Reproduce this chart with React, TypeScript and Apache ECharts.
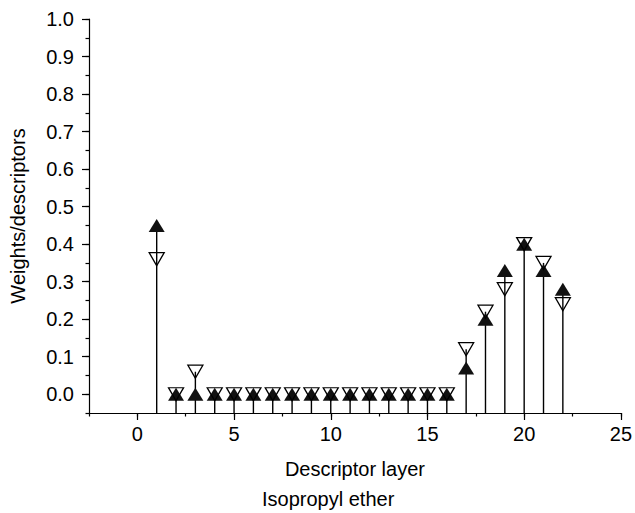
import React, { useEffect, useRef } from "react";
import * as echarts from "echarts";

// Descriptor layers and the two weight profiles drawn as stems
const layers = [1, 2, 3, 4, 5, 6, 7, 8, 9, 10, 11, 12, 13, 14, 15, 16, 17, 18, 19, 20, 21, 22];
const filledValues = [0.45, 0, 0, 0, 0, 0, 0, 0, 0, 0, 0, 0, 0, 0, 0, 0, 0.07, 0.2, 0.33, 0.4, 0.33, 0.28];
const hollowValues = [0.36, 0, 0.06, 0, 0, 0, 0, 0, 0, 0, 0, 0, 0, 0, 0, 0, 0.12, 0.22, 0.28, 0.4, 0.35, 0.24];

// Labelled (long) ticks; the short ticks fall every half step in between
const yMajorTicks = [0, 0.1, 0.2, 0.3, 0.4, 0.5, 0.6, 0.7, 0.8, 0.9, 1.0];
const xMajorTicks = [0, 5, 10, 15, 20, 25];

const Y_MIN = -0.05;
const Y_MAX = 1.0;
const Y_STEP = 0.05;
const X_MIN = -2.5;
const X_MAX = 25;
const X_STEP = 2.5;

const FONT = "'Liberation Sans', Arial, Helvetica, sans-serif";
const INK = "#000000";

const isMultiple = (v: number, step: number) => Math.abs(v / step - Math.round(v / step)) < 1e-6;

export default function App() {
  const ref = useRef<HTMLDivElement>(null);

  useEffect(() => {
    if (!ref.current) return;
    const chart = echarts.init(ref.current, null, { renderer: "svg" });

    const stems = layers.map((x, i) => [x, Math.max(filledValues[i], hollowValues[i])]);

    const axisLineStyle = { color: INK, width: 1.2 };

    chart.setOption({
      animation: false,
      backgroundColor: "#ffffff",
      grid: { left: 88, right: 14, top: 19, bottom: 100 },
      xAxis: [
        {
          type: "value",
          min: X_MIN,
          max: X_MAX,
          interval: X_STEP,
          name: "Descriptor layer",
          nameLocation: "middle",
          nameGap: 46,
          nameTextStyle: { fontFamily: FONT, fontSize: 20, color: INK },
          axisLine: { show: true, onZero: false, lineStyle: axisLineStyle },
          axisTick: { show: true, length: 3.5, lineStyle: axisLineStyle },
          axisLabel: {
            show: true,
            margin: 11,
            fontFamily: FONT,
            fontSize: 20,
            color: INK,
            showMinLabel: true,
            showMaxLabel: true,
            formatter: (v: number) => (isMultiple(v, 5) ? String(Math.round(v)) : ""),
          },
          splitLine: { show: false },
        },
        {
          type: "value",
          position: "bottom",
          min: X_MIN,
          max: X_MAX,
          axisLine: { show: false, onZero: false },
          axisTick: { show: true, length: 7, lineStyle: axisLineStyle, customValues: xMajorTicks },
          axisLabel: { show: false },
          splitLine: { show: false },
        },
      ],
      yAxis: [
        {
          type: "value",
          min: Y_MIN,
          max: Y_MAX,
          interval: Y_STEP,
          name: "Weights/descriptors",
          nameLocation: "middle",
          nameGap: 61,
          nameTextStyle: { fontFamily: FONT, fontSize: 20, color: INK },
          axisLine: { show: true, onZero: false, lineStyle: axisLineStyle },
          axisTick: { show: true, length: 3.5, lineStyle: axisLineStyle },
          axisLabel: {
            show: true,
            margin: 15,
            fontFamily: FONT,
            fontSize: 20,
            color: INK,
            showMinLabel: true,
            showMaxLabel: true,
            formatter: (v: number) => (isMultiple(v, 0.1) ? v.toFixed(1) : ""),
          },
          splitLine: { show: false },
        },
        {
          type: "value",
          position: "left",
          min: Y_MIN,
          max: Y_MAX,
          axisLine: { show: false, onZero: false },
          axisTick: { show: true, length: 7, lineStyle: axisLineStyle, customValues: yMajorTicks },
          axisLabel: { show: false },
          splitLine: { show: false },
        },
      ],
      graphic: [
        {
          type: "text",
          left: 262,
          top: 489,
          style: { text: "Isopropyl ether", fontFamily: FONT, fontSize: 20, fill: INK },
        },
      ],
      series: [
        {
          type: "custom",
          name: "stems",
          coordinateSystem: "cartesian2d",
          data: stems,
          z: 1,
          renderItem: (_params: any, api: any) => {
            const x = api.value(0);
            const top = api.coord([x, api.value(1)]);
            const base = api.coord([x, Y_MIN]);
            return {
              type: "line",
              shape: { x1: base[0], y1: base[1], x2: top[0], y2: top[1] },
              style: { stroke: INK, lineWidth: 1.4 },
            };
          },
        },
        {
          type: "scatter",
          name: "filled",
          data: layers.map((x, i) => [x, filledValues[i]]),
          symbol: "triangle",
          symbolSize: [16, 13],
          itemStyle: { color: "#111", opacity: 1 },
          z: 2,
        },
        {
          type: "scatter",
          name: "hollow",
          data: layers.map((x, i) => [x, hollowValues[i]]),
          symbol: "triangle",
          symbolRotate: 180,
          symbolSize: [15, 13],
          itemStyle: { color: "rgba(255,255,255,0)", borderColor: INK, borderWidth: 1.3, opacity: 1 },
          z: 3,
        },
      ],
    });

    return () => chart.dispose();
  }, []);

  return (
    <div
      ref={ref}
      style={{ position: "fixed", left: 0, top: 0, width: 635, height: 513, background: "#fff" }}
    />
  );
}
